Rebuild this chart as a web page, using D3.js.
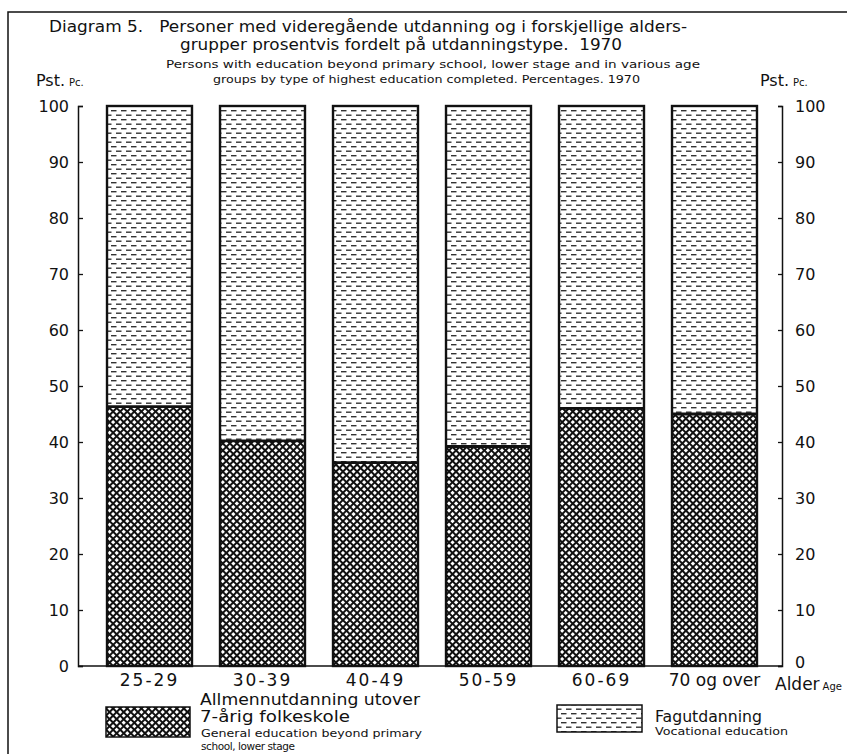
<!DOCTYPE html>
<html><head><meta charset="utf-8">
<script src="https://cdn.jsdelivr.net/npm/d3@7"></script>
<style>
body{margin:0;background:#fff;}
svg{display:block;}
text{font-family:"DejaVu Sans","Liberation Sans",sans-serif;fill:#111;}
</style></head>
<body>
<script>
const categories = ["25-29","30-39","40-49","50-59","60-69","70 og over"];
const general = [46.3, 40.2, 36.3, 39.2, 46.0, 45.0];
const vocational = general.map(v => 100 - v);
const yTicks = [0,10,20,30,40,50,60,70,80,90,100];

const W = 847, H = 754;
const FONT = '"DejaVu Sans","Liberation Sans",sans-serif';
const svg = d3.select("body").append("svg").attr("width", W).attr("height", H);
const defs = svg.append("defs");

// crosshatch pattern
const ch = defs.append("pattern").attr("id","cross").attr("patternUnits","userSpaceOnUse")
  .attr("width",5).attr("height",5).attr("patternTransform","rotate(45)");
ch.append("rect").attr("width",5).attr("height",5).attr("fill","#fff");
ch.append("rect").attr("x",0).attr("y",0).attr("width",5).attr("height",2).attr("fill","#111");
ch.append("rect").attr("x",0).attr("y",0).attr("width",2).attr("height",5).attr("fill","#111");

// dash pattern
const dp = defs.append("pattern").attr("id","dash").attr("patternUnits","userSpaceOnUse")
  .attr("width",10).attr("height",9);
dp.append("rect").attr("width",10).attr("height",9).attr("fill","#fff");
dp.append("rect").attr("x",1).attr("y",2).attr("width",5.5).attr("height",1.4).attr("fill","#333");
dp.append("rect").attr("x",6).attr("y",6.5).attr("width",5.5).attr("height",1.4).attr("fill","#333");
dp.append("rect").attr("x",-4).attr("y",6.5).attr("width",5.5).attr("height",1.4).attr("fill","#333");

const y = d3.scaleLinear().domain([0,100]).range([666,106]);
const x = d3.scaleBand().domain(categories).range([93,771]).paddingInner(0.248).paddingOuter(0.124);

// frame
svg.append("path").attr("d","M8,754 L8,12 L847,12").attr("fill","none").attr("stroke","#111").attr("stroke-width",1.5);

function txt(xp, yp, size, str, len, adj){
  const t = svg.append("text").attr("x",xp).attr("y",yp).attr("font-size",size).text(str);
  if (len) t.attr("textLength",len).attr("lengthAdjust",adj || "spacingAndGlyphs");
  return t;
}

// titles
txt(49, 32, 16, "Diagram 5.\u00a0\u00a0 Personer med videregående utdanning og i forskjellige alders-", 638);
txt(180, 50, 16, "grupper prosentvis fordelt på utdanningstype.\u00a0 1970", 442);
txt(166, 68, 10.5, "Persons with education beyond primary school, lower stage and in various age", 534);
txt(213, 83, 10.5, "groups by type of highest education completed. Percentages. 1970", 427);

function pst(xp){
  const t = svg.append("text").attr("x",xp).attr("y",86);
  t.append("tspan").attr("font-size",16).text("Pst.");
  t.append("tspan").attr("font-size",10).attr("dx",4).text("Pc.");
}
pst(36); pst(760);

// bars
const g = svg.append("g");
categories.forEach((c,i) => {
  g.append("rect").attr("x",x(c)).attr("y",y(general[i])).attr("width",x.bandwidth())
    .attr("height",y(0)-y(general[i])).attr("fill","url(#cross)");
  g.append("rect").attr("x",x(c)).attr("y",y(100)).attr("width",x.bandwidth())
    .attr("height",y(general[i])-y(100)).attr("fill","url(#dash)");
  g.append("line").attr("x1",x(c)).attr("x2",x(c)+x.bandwidth()).attr("y1",y(general[i])).attr("y2",y(general[i]))
    .attr("stroke","#111").attr("stroke-width",2.8);
  g.append("rect").attr("x",x(c)).attr("y",y(100)).attr("width",x.bandwidth())
    .attr("height",y(0)-y(100)).attr("fill","none").attr("stroke","#111").attr("stroke-width",2.4);
});

// axes
const left = d3.axisLeft(y).tickValues(yTicks).tickSize(-5).tickFormat(d=>d).tickPadding(9);
const la = svg.append("g").attr("transform","translate(78,0)").call(left);
la.select(".domain").attr("stroke","#111").attr("stroke-width",1.5);
la.selectAll("text").attr("font-size",16).style("font-family",FONT);
la.selectAll("line").attr("stroke","#111").attr("stroke-width",1.3);

const right = d3.axisRight(y).tickValues(yTicks).tickSize(-4).tickFormat(d=>d).tickPadding(13);
const ra = svg.append("g").attr("transform","translate(782,0)").call(right);
ra.select(".domain").attr("stroke","#111").attr("stroke-width",1.5);
ra.selectAll("text").attr("font-size",16).style("font-family",FONT);
ra.selectAll(".tick").filter(d => d === 0).select("text").attr("dy","0.1em");
ra.selectAll("line").attr("stroke","#111").attr("stroke-width",1.3);

// baseline
svg.append("line").attr("x1",78).attr("x2",782).attr("y1",y(0)).attr("y2",y(0)).attr("stroke","#111").attr("stroke-width",1.5);

const bottom = d3.axisBottom(x).tickSize(0).tickPadding(8);
const ba = svg.append("g").attr("transform",`translate(0,${y(0)})`).call(bottom);
ba.select(".domain").remove();
ba.selectAll("text").attr("font-size",17).style("font-family",FONT)
  .attr("letter-spacing", d => /^\d+-\d+$/.test(d) ? 2 : 0);

const al = svg.append("text").attr("x",775).attr("y",690);
al.append("tspan").attr("font-size",17).text("Alder");
al.append("tspan").attr("font-size",10).attr("dx",3).text("Age");

// legend
svg.append("rect").attr("x",106).attr("y",707).attr("width",84).attr("height",30).attr("fill","url(#cross)").attr("stroke","#111").attr("stroke-width",1.5);
txt(200, 705, 15, "Allmennutdanning utover", 220);
txt(200, 722, 15, "7-årig folkeskole", 150);
txt(201, 737, 10.5, "General education beyond primary", 221);
txt(201, 750, 10.5, "school, lower stage", 94, "spacing");

svg.append("rect").attr("x",557).attr("y",705).attr("width",85).attr("height",27).attr("fill","url(#dash)").attr("stroke","#111").attr("stroke-width",1.5);
txt(655, 722, 16, "Fagutdanning", 107);
txt(655, 735, 10.5, "Vocational education", 133);
</script>
</body></html>
